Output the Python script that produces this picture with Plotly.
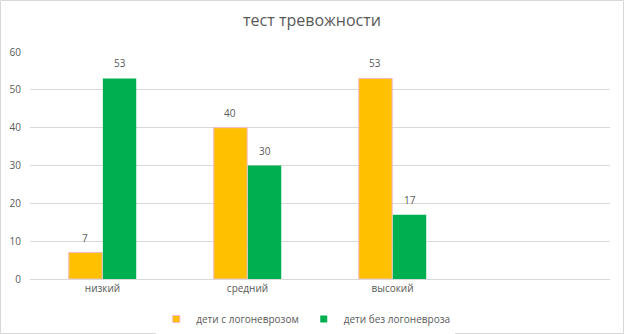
import plotly.graph_objects as go

categories = ["низкий", "средний", "высокий"]
series_names = ["дети с логоневрозом", "дети без логоневроза"]
with_logo = [7, 40, 53]
without_logo = [53, 30, 17]
y_ticks = [0, 10, 20, 30, 40, 50, 60]

FONT = "Open Sans, Liberation Sans, sans-serif"
GRAY = "#595959"
ORANGE = "#FFC000"
GREEN = "#00B050"

L, R, T, B = 30, 14, 52, 55
W, H = 624, 334
pw, ph = W - L - R, H - T - B

fig = go.Figure()
for name, vals, col, lc, lw in [
    (series_names[0], with_logo, ORANGE, "#F4B9C4", 1),
    (series_names[1], without_logo, GREEN, GREEN, 0),
]:
    fig.add_trace(go.Bar(
        x=categories, y=vals, name=name, showlegend=False,
        marker=dict(color=col, line=dict(color=lc, width=lw)),
    ))
    # legend entry with small square marker
    fig.add_trace(go.Scatter(
        x=[None], y=[None], mode="markers", name=name,
        marker=dict(symbol="square", size=7, color=col,
                    line=dict(color=lc, width=lw)),
    ))

# data labels above bars
for vals, off in [(with_logo, -0.5), (without_logo, 0.5)]:
    for c, v in zip(categories, vals):
        fig.add_annotation(x=c, y=v, text=str(v), showarrow=False,
                           xshift=off * 35, yshift=15, yanchor="middle",
                           font=dict(size=10, color=GRAY, family=FONT))

fig.update_layout(
    width=W, height=H,
    margin=dict(l=L, r=R, t=T, b=B, autoexpand=False),
    paper_bgcolor="white", plot_bgcolor="white",
    barmode="group", bargap=0.53, bargroupgap=0.02,
    font=dict(family=FONT, color=GRAY, size=10),
    title=dict(text="тест тревожности", x=0.5, xanchor="center",
               y=1 - 20 / H, yanchor="middle",
               font=dict(size=16, color=GRAY, family=FONT)),
    xaxis=dict(type="category", categoryorder="array", categoryarray=categories,
               range=[-0.5, 3.5], showgrid=False, showline=True,
               linecolor="#D9D9D9", linewidth=1, ticks="", automargin=False,
               tickfont=dict(size=10, color=GRAY, family=FONT), fixedrange=True),
    yaxis=dict(range=[0, 60], tickvals=y_ticks, showgrid=True, gridcolor="#D9D9D9",
               gridwidth=1, zeroline=False, showline=False, ticks="", automargin=False,
               tickfont=dict(size=10, color=GRAY, family=FONT), ticklabelstandoff=8),
    legend=dict(orientation="h", xref="container", yref="container",
                x=0.49, xanchor="center", y=(H - 319) / H,
                yanchor="middle", font=dict(size=10, color=GRAY, family=FONT),
                itemwidth=30, tracegroupgap=0),
    showlegend=True,
)

# outer chart border
fig.add_shape(type="rect", xref="paper", yref="paper",
              x0=(0.5 - L) / pw, x1=(W - 0.5 - L) / pw,
              y0=-(H - 0.5 - T - ph) / ph, y1=(T - 0.5) / ph + 1,
              line=dict(color="#D9D9D9", width=1), layer="below")

fig.write_html("out.html", config={"displayModeBar": False},
               post_script="document.body.style.margin='0';")
